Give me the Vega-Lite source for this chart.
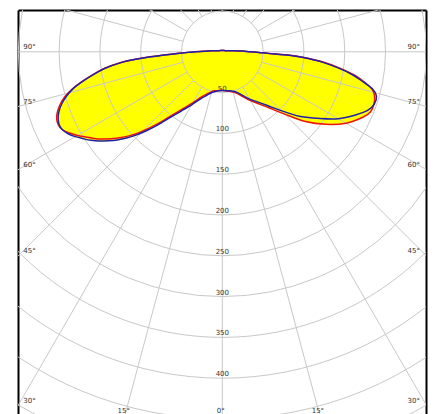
{
  "$schema": "https://vega.github.io/schema/vega-lite/v6.json",
  "width": 408,
  "height": 404,
  "autosize": {"type": "none"},
  "padding": {"left": 18, "top": 10, "right": 9, "bottom": 0},
  "background": "white",
  "config": {"view": {"stroke": null}, "text": {"font": "DejaVu Sans"}},
  "datasets": {
    "curves": [
      {"s":"R","a":-180,"i":1.5},{"s":"R","a":-150,"i":2},{"s":"R","a":-130,"i":2.5},{"s":"R","a":-110,"i":4},{"s":"R","a":-100,"i":7},{"s":"R","a":-95,"i":13},{"s":"R","a":-92,"i":21},{"s":"R","a":-90,"i":34},{"s":"R","a":-89,"i":42},{"s":"R","a":-88,"i":53},{"s":"R","a":-87,"i":69},{"s":"R","a":-86,"i":89},{"s":"R","a":-85,"i":109},{"s":"R","a":-84,"i":125},{"s":"R","a":-82,"i":146},{"s":"R","a":-80,"i":161},{"s":"R","a":-78,"i":176},{"s":"R","a":-76,"i":190},{"s":"R","a":-74,"i":201},{"s":"R","a":-72,"i":209},{"s":"R","a":-70,"i":215},{"s":"R","a":-68,"i":219},{"s":"R","a":-66,"i":220},{"s":"R","a":-64,"i":218},{"s":"R","a":-62,"i":212},{"s":"R","a":-60,"i":205},{"s":"R","a":-58,"i":197},{"s":"R","a":-56,"i":190},{"s":"R","a":-54,"i":182},{"s":"R","a":-52,"i":173},{"s":"R","a":-50,"i":164},{"s":"R","a":-48,"i":154},{"s":"R","a":-46,"i":143},{"s":"R","a":-44,"i":131},{"s":"R","a":-42,"i":119},{"s":"R","a":-40,"i":107.5},{"s":"R","a":-38,"i":97.5},{"s":"R","a":-36,"i":89.5},{"s":"R","a":-34,"i":83},{"s":"R","a":-30,"i":72},{"s":"R","a":-25,"i":61.5},{"s":"R","a":-20,"i":55},{"s":"R","a":-15,"i":50.5},{"s":"R","a":-10,"i":48.5},{"s":"R","a":-5,"i":47.5},{"s":"R","a":0,"i":47.4},{"s":"R","a":5,"i":48},{"s":"R","a":10,"i":49},{"s":"R","a":15,"i":51},{"s":"R","a":20,"i":54.5},{"s":"R","a":25,"i":61},{"s":"R","a":30,"i":69},{"s":"R","a":35,"i":78},{"s":"R","a":40,"i":90},{"s":"R","a":45,"i":108},{"s":"R","a":50,"i":133},{"s":"R","a":55,"i":155},{"s":"R","a":60,"i":175},{"s":"R","a":65,"i":190},{"s":"R","a":68,"i":196},{"s":"R","a":71,"i":196.5},{"s":"R","a":74,"i":194},{"s":"R","a":76,"i":189},{"s":"R","a":78,"i":178},{"s":"R","a":80,"i":164},{"s":"R","a":82,"i":146},{"s":"R","a":84,"i":126},{"s":"R","a":86,"i":100},{"s":"R","a":87,"i":83},{"s":"R","a":88,"i":57},{"s":"R","a":89,"i":45},{"s":"R","a":90,"i":34},{"s":"R","a":92,"i":25},{"s":"R","a":95,"i":15},{"s":"R","a":100,"i":8},{"s":"R","a":110,"i":4},{"s":"R","a":130,"i":2.5},{"s":"R","a":150,"i":2},
      {"s":"B","a":-180,"i":1.5},{"s":"B","a":-150,"i":2},{"s":"B","a":-130,"i":2.5},{"s":"B","a":-110,"i":4},{"s":"B","a":-100,"i":7},{"s":"B","a":-95,"i":13},{"s":"B","a":-92,"i":21},{"s":"B","a":-90,"i":33},{"s":"B","a":-89,"i":41},{"s":"B","a":-88,"i":52},{"s":"B","a":-87,"i":68},{"s":"B","a":-86,"i":88},{"s":"B","a":-85,"i":108},{"s":"B","a":-84,"i":124},{"s":"B","a":-82,"i":145},{"s":"B","a":-80,"i":160},{"s":"B","a":-78,"i":175},{"s":"B","a":-76,"i":189},{"s":"B","a":-74,"i":199},{"s":"B","a":-72,"i":207},{"s":"B","a":-70,"i":213},{"s":"B","a":-68,"i":217},{"s":"B","a":-66,"i":219},{"s":"B","a":-64,"i":218},{"s":"B","a":-62,"i":214},{"s":"B","a":-60,"i":208},{"s":"B","a":-58,"i":201},{"s":"B","a":-56,"i":194},{"s":"B","a":-54,"i":186},{"s":"B","a":-52,"i":177},{"s":"B","a":-50,"i":168},{"s":"B","a":-48,"i":158},{"s":"B","a":-46,"i":147},{"s":"B","a":-44,"i":135},{"s":"B","a":-42,"i":123},{"s":"B","a":-40,"i":111},{"s":"B","a":-38,"i":101},{"s":"B","a":-36,"i":93},{"s":"B","a":-34,"i":86},{"s":"B","a":-30,"i":75},{"s":"B","a":-25,"i":64},{"s":"B","a":-20,"i":57},{"s":"B","a":-15,"i":52},{"s":"B","a":-10,"i":49.5},{"s":"B","a":-5,"i":48},{"s":"B","a":0,"i":47.4},{"s":"B","a":5,"i":47.8},{"s":"B","a":10,"i":48.5},{"s":"B","a":15,"i":50},{"s":"B","a":20,"i":53},{"s":"B","a":25,"i":59},{"s":"B","a":30,"i":67},{"s":"B","a":35,"i":75},{"s":"B","a":40,"i":86},{"s":"B","a":45,"i":102},{"s":"B","a":50,"i":123},{"s":"B","a":55,"i":142},{"s":"B","a":60,"i":164},{"s":"B","a":65,"i":182},{"s":"B","a":68,"i":192},{"s":"B","a":71,"i":197},{"s":"B","a":74,"i":196.5},{"s":"B","a":76,"i":190},{"s":"B","a":78,"i":176},{"s":"B","a":80,"i":162},{"s":"B","a":82,"i":144},{"s":"B","a":84,"i":124},{"s":"B","a":86,"i":98},{"s":"B","a":87,"i":82},{"s":"B","a":88,"i":56},{"s":"B","a":89,"i":45},{"s":"B","a":90,"i":34},{"s":"B","a":92,"i":25},{"s":"B","a":95,"i":15},{"s":"B","a":100,"i":8},{"s":"B","a":110,"i":4},{"s":"B","a":130,"i":2.5},{"s":"B","a":150,"i":2}
    ],
    "circles": [{"r":50},{"r":100},{"r":150},{"r":200},{"r":250},{"r":300},{"r":350},{"r":400},{"r":450},{"r":500}],
    "spokes": [{"a":-165},{"a":-150},{"a":-135},{"a":-120},{"a":-105},{"a":-90},{"a":-75},{"a":-60},{"a":-45},{"a":-30},{"a":-15},{"a":0},{"a":15},{"a":30},{"a":45},{"a":60},{"a":75},{"a":90},{"a":105},{"a":120},{"a":135},{"a":150},{"a":165},{"a":180}],
    "rlabels": [{"r":50,"t":"50"},{"r":100,"t":"100"},{"r":150,"t":"150"},{"r":200,"t":"200"},{"r":250,"t":"250"},{"r":300,"t":"300"},{"r":350,"t":"350"},{"r":400,"t":"400"}],
    "alabels": [{"a":-90,"t":"90°"},{"a":-75,"t":"75°"},{"a":-60,"t":"60°"},{"a":-45,"t":"45°"},{"a":-30,"t":"30°"},{"a":-15,"t":"15°"},{"a":0,"t":"0°"},{"a":15,"t":"15°"},{"a":30,"t":"30°"},{"a":45,"t":"45°"},{"a":60,"t":"60°"},{"a":75,"t":"75°"},{"a":90,"t":"90°"}]
  },
  "resolve": {"axis": {"x": "independent", "y": "independent"}},
  "layer": [
    {
      "data": {"name": "curves"},
      "transform": [
        {"calculate": "datum.i*sin(datum.a*PI/180)", "as": "x"},
        {"calculate": "-datum.i*cos(datum.a*PI/180)", "as": "y"}
      ],
      "mark": {"type": "line", "interpolate": "cardinal-closed", "fill": "#ffff00", "stroke": "#ffff00", "strokeWidth": 1},
      "encoding": {
        "x": {"field": "x", "type": "quantitative", "scale": {"domain": [-250.4, 249.6], "nice": false, "zero": false}, "axis": null},
        "y": {"field": "y", "type": "quantitative", "scale": {"domain": [-443.9, 51.2], "nice": false, "zero": false}, "axis": null},
        "detail": {"field": "s"},
        "order": {"field": "a", "type": "quantitative"}
      }
    },
    {
      "data": {"name": "circles"},
      "mark": {"type": "arc", "filled": false, "stroke": "#c8c8c8", "strokeWidth": 1, "theta": 0, "theta2": 6.2832, "clip": true},
      "encoding": {
        "x": {"datum": 0, "type": "quantitative", "axis": null},
        "y": {"datum": 0, "type": "quantitative", "axis": null},
        "radius": {"field": "r", "type": "quantitative", "stack": null, "scale": {"type": "linear", "domain": [0, 500], "range": [0, 408], "zero": true, "nice": false}}
      }
    },
    {
      "data": {"name": "spokes"},
      "transform": [
        {"calculate": "50*sin(datum.a*PI/180)", "as": "x1"},
        {"calculate": "-50*cos(datum.a*PI/180)", "as": "y1"},
        {"calculate": "700*sin(datum.a*PI/180)", "as": "x2"},
        {"calculate": "-700*cos(datum.a*PI/180)", "as": "y2"}
      ],
      "mark": {"type": "rule", "stroke": "#c8c8c8", "strokeWidth": 1, "clip": true},
      "encoding": {
        "x": {"field": "x1", "type": "quantitative", "axis": {"orient": "top", "domain": true, "domainColor": "#000000", "domainWidth": 2, "ticks": false, "labels": false, "grid": false, "title": null}},
        "y": {"field": "y1", "type": "quantitative", "axis": {"orient": "left", "domain": true, "domainColor": "#000000", "domainWidth": 2, "ticks": false, "labels": false, "grid": false, "title": null}},
        "x2": {"field": "x2"},
        "y2": {"field": "y2"}
      }
    },
    {
      "data": {"name": "rlabels"},
      "transform": [{"calculate": "-datum.r", "as": "ny"}],
      "mark": {"type": "text", "fontSize": 7, "fill": "#333333", "align": "center", "baseline": "alphabetic", "dy": -2},
      "encoding": {
        "x": {"datum": 0, "type": "quantitative", "axis": null},
        "y": {"field": "ny", "type": "quantitative", "axis": null},
        "text": {"field": "t"}
      }
    },
    {
      "data": {"name": "alabels"},
      "transform": [
        {"filter": "datum.a <= -30"},
        {"calculate": "-244", "as": "lx"},
        {"calculate": "-250*cos(datum.a*PI/180)/abs(sin(datum.a*PI/180))", "as": "ly"}
      ],
      "mark": {"type": "text", "fontSize": 7, "fill": "#333333", "align": "left", "baseline": "alphabetic", "dy": -2.5},
      "encoding": {
        "x": {"field": "lx", "type": "quantitative", "axis": null},
        "y": {"field": "ly", "type": "quantitative", "axis": null},
        "text": {"field": "t"}
      }
    },
    {
      "data": {"name": "alabels"},
      "transform": [
        {"filter": "datum.a >= 30"},
        {"calculate": "242.3", "as": "lx"},
        {"calculate": "-250*cos(datum.a*PI/180)/abs(sin(datum.a*PI/180))", "as": "ly"}
      ],
      "mark": {"type": "text", "fontSize": 7, "fill": "#333333", "align": "right", "baseline": "alphabetic", "dy": -2.5},
      "encoding": {
        "x": {"field": "lx", "type": "quantitative", "axis": null},
        "y": {"field": "ly", "type": "quantitative", "axis": {"orient": "right", "domain": true, "domainColor": "#000000", "domainWidth": 2, "ticks": false, "labels": false, "grid": false, "title": null}},
        "text": {"field": "t"}
      }
    },
    {
      "data": {"name": "alabels"},
      "transform": [
        {"filter": "abs(datum.a) < 30"},
        {"calculate": "443.9*tan(datum.a*PI/180)", "as": "lx"},
        {"calculate": "-443.9", "as": "ly"}
      ],
      "mark": {"type": "text", "fontSize": 7, "fill": "#333333", "align": "center", "baseline": "alphabetic", "dy": -1, "dx": -1.5},
      "encoding": {
        "x": {"field": "lx", "type": "quantitative", "axis": null},
        "y": {"field": "ly", "type": "quantitative", "axis": null},
        "text": {"field": "t"}
      }
    },
    {
      "data": {"name": "curves"},
      "transform": [
        {"calculate": "datum.i*sin(datum.a*PI/180)", "as": "x"},
        {"calculate": "-datum.i*cos(datum.a*PI/180)", "as": "y"}
      ],
      "mark": {"type": "line", "interpolate": "cardinal-closed", "strokeWidth": 1.5},
      "encoding": {
        "x": {"field": "x", "type": "quantitative", "axis": null},
        "y": {"field": "y", "type": "quantitative", "axis": null},
        "color": {"field": "s", "type": "nominal", "scale": {"domain": ["R", "B"], "range": ["#ee1111", "#2020b0"]}, "legend": null},
        "order": {"field": "a", "type": "quantitative"}
      }
    }
  ]
}
